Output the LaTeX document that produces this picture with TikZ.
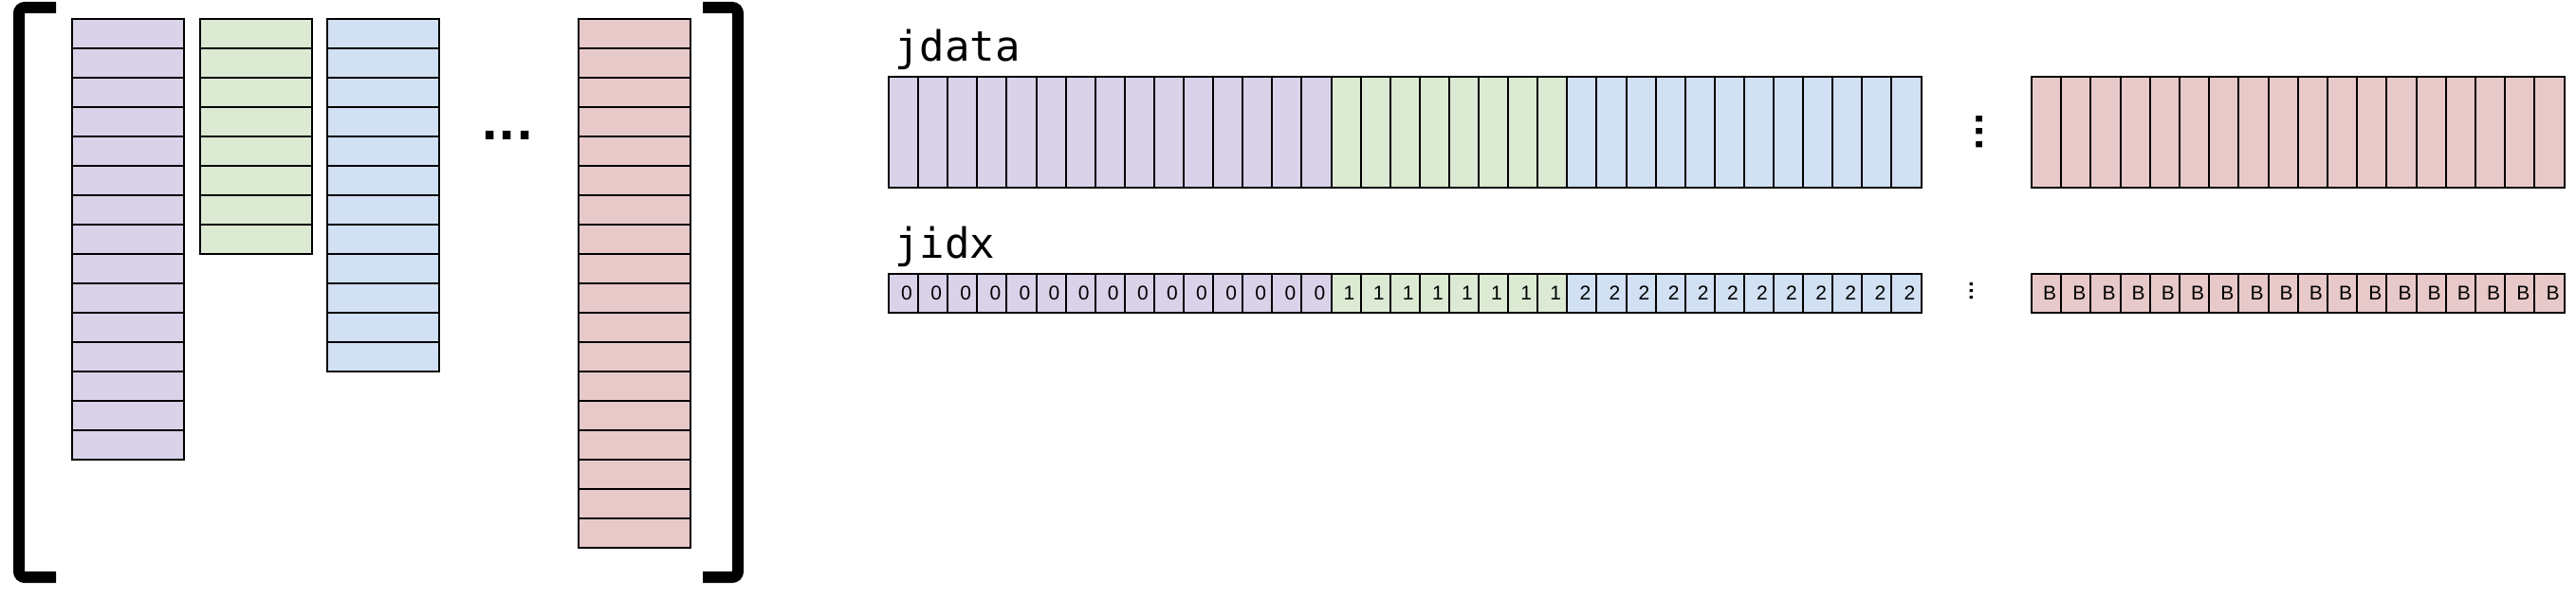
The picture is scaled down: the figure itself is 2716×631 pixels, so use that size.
\documentclass[tikz,border=0pt]{standalone}
\usepackage{fontspec}
\setmainfont{Liberation Sans}
\newfontfamily\codefont{DejaVu Sans Mono}
\newfontfamily\dotfont{DejaVu Sans}
\usetikzlibrary{positioning}
\definecolor{ListPurple}{RGB}{217,210,233}
\definecolor{ListGreen}{RGB}{220,233,211}
\definecolor{ListBlue}{RGB}{209,224,242}
\definecolor{ListRed}{RGB}{232,201,202}
\tikzset{
	row/.style={draw=black,line width=2pt,inner sep=0pt,minimum width=118pt,minimum height=31pt},
	col/.style={draw=black,line width=2pt,inner sep=0pt,minimum width=31.1pt,minimum height=117pt},
	idx/.style={draw=black,line width=2pt,inner sep=0pt,minimum width=31.1pt,minimum height=41pt,
		font=\fontsize{21}{21}\selectfont,execute at begin node=\hspace*{7pt}},
	lbl/.style={font=\codefont\fontsize{44}{48}\selectfont,inner sep=0pt,anchor=base west},
	brkt/.style={line width=12pt,rounded corners=6pt},
	ell/.style={font=\dotfont\bfseries\fontsize{#1}{#1}\selectfont,inner sep=0pt},
}
\begin{document}
\begin{tikzpicture}[x=1pt,y=-1pt]
	\useasboundingbox (0,0) rectangle (2716,631);
	% the list of arrays
	\draw[brkt] (59,8) -- (20,8) -- (20,609) -- (59,609);
	\draw[brkt] (741,8) -- (778,8) -- (778,609) -- (741,609);
	\foreach \i in {1,...,15}
		\node[row,fill=ListPurple] (p\i) at (135,{4.5+31*\i}) {};
	\foreach \i in {1,...,8}
		\node[row,fill=ListGreen] (g\i) at (270,{4.5+31*\i}) {};
	\foreach \i in {1,...,12}
		\node[row,fill=ListBlue] (b\i) at (404,{4.5+31*\i}) {};
	\foreach \i in {1,...,18}
		\node[row,fill=ListRed] (r\i) at (669,{4.5+31*\i}) {};
	\node[ell=48] (hdots) at (535,143) {...};
	% flattened data and index
	\node[lbl] (jdlbl) at (943,65) {jdata};
	\node[lbl] (jilbl) at (943,272) {jidx};
	\foreach \i in {1,...,15}{
		\node[col,fill=ListPurple] (jd\i) at ({921.45+31.1*\i},139.5) {};
		\node[idx,fill=ListPurple] (ji\i) at ({921.45+31.1*\i},309.5) {0};
	}
	\foreach \i in {16,...,23}{
		\node[col,fill=ListGreen] (jd\i) at ({921.45+31.1*\i},139.5) {};
		\node[idx,fill=ListGreen] (ji\i) at ({921.45+31.1*\i},309.5) {1};
	}
	\foreach \i in {24,...,35}{
		\node[col,fill=ListBlue] (jd\i) at ({921.45+31.1*\i},139.5) {};
		\node[idx,fill=ListBlue] (ji\i) at ({921.45+31.1*\i},309.5) {2};
	}
	\node[ell=36,rotate=90] (vdots) at (2087,139) {...};
	\node[ell=18,rotate=90] (idots) at (2079,307) {...};
	\foreach \i in {1,...,18}{
		\node[col,fill=ListRed] (jdr\i) at ({2126.4+31.2*\i},139.5) {};
		\node[idx,fill=ListRed] (jir\i) at ({2126.4+31.2*\i},309.5) {B};
	}
\end{tikzpicture}
\end{document}
